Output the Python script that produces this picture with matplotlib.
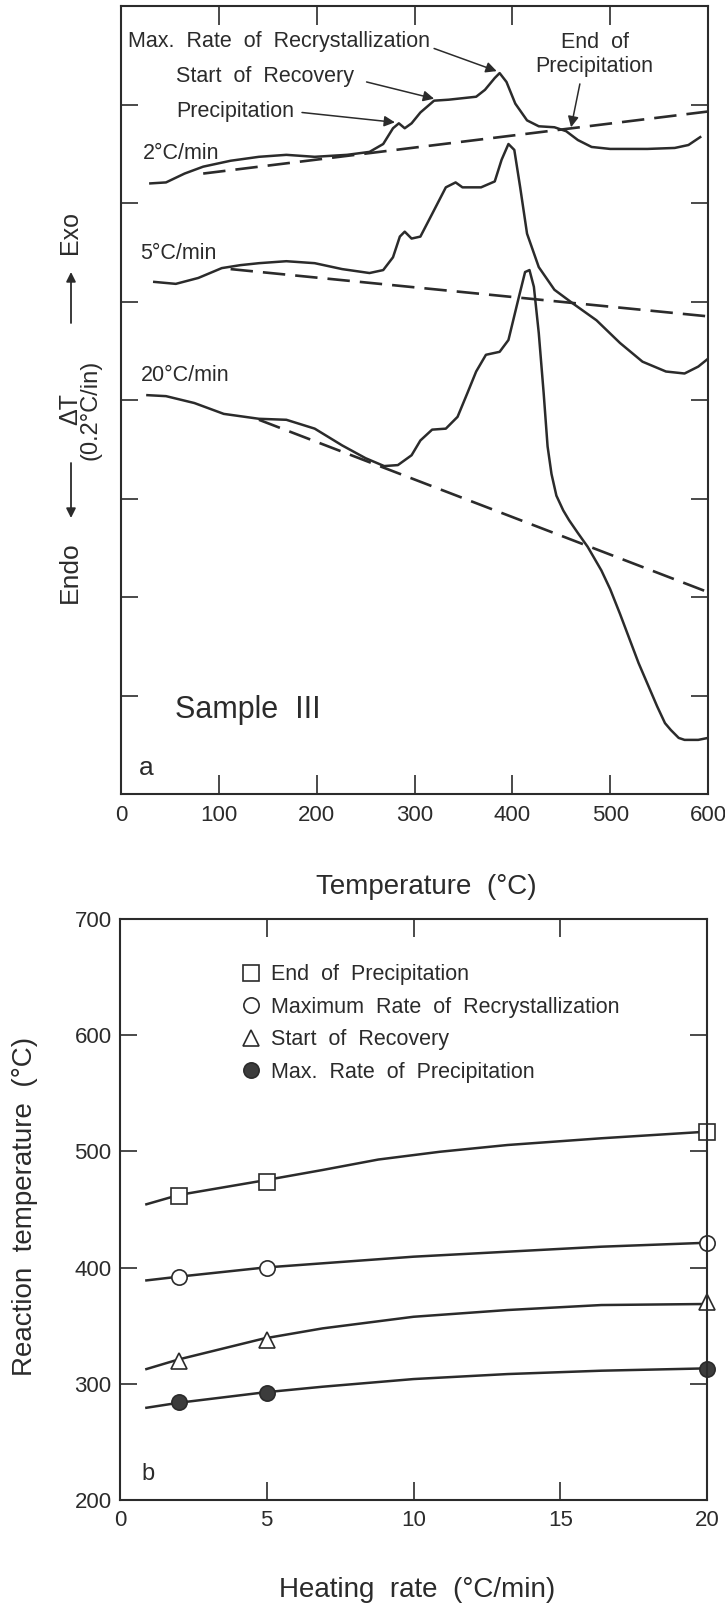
import matplotlib
matplotlib.use("Agg")
import matplotlib.pyplot as plt

plt.rcParams['font.family'] = ['Liberation Sans', 'DejaVu Sans']

INK = '#2b2b2b'

# ---- panel a: DTA traces (temperature in C, deflection in tick units) ----
t_2 = [30, 46, 65, 84, 112, 141, 169, 198, 231, 254, 268, 278, 284, 290, 297, 306, 320, 335,
       363, 372, 382, 387, 394, 403, 415, 427, 443, 455, 467, 481, 500, 538, 566, 580, 592]
dt_2 = [6.20, 6.21, 6.30, 6.37, 6.43, 6.47, 6.49, 6.47, 6.49, 6.52, 6.60, 6.76, 6.81, 6.76, 6.81,
        6.92, 7.04, 7.05, 7.08, 7.15, 7.27, 7.32, 7.23, 7.01, 6.84, 6.78, 6.77, 6.73, 6.64, 6.57,
        6.55, 6.55, 6.56, 6.59, 6.67]

t_5 = [34, 56, 79, 103, 122, 141, 169, 198, 226, 254, 268, 278, 285, 290, 297, 306, 318, 332,
       342, 349, 368, 382, 389, 396, 402, 408, 415, 427, 443, 462, 486, 510, 533, 557, 576, 590, 600]
dt_5 = [5.20, 5.18, 5.24, 5.34, 5.37, 5.39, 5.41, 5.39, 5.33, 5.29, 5.32, 5.45, 5.66, 5.71, 5.64,
        5.66, 5.89, 6.16, 6.21, 6.16, 6.16, 6.22, 6.44, 6.60, 6.54, 6.16, 5.69, 5.35, 5.12, 4.98,
        4.81, 4.58, 4.39, 4.29, 4.27, 4.34, 4.42]

t_20 = [27, 46, 75, 105, 141, 169, 198, 226, 250, 269, 283, 297, 306, 318, 332, 344, 354, 363,
        373, 387, 396, 406, 413, 417.5, 422, 427, 432, 436, 440, 445, 452, 458, 467, 477, 491,
        500, 510, 529, 548, 556, 562, 570, 576, 590, 600]
dt_20 = [4.05, 4.04, 3.97, 3.86, 3.81, 3.80, 3.71, 3.54, 3.41, 3.33, 3.34, 3.44, 3.59, 3.70, 3.71,
         3.83, 4.07, 4.29, 4.46, 4.49, 4.61, 5.02, 5.30, 5.32, 5.15, 4.68, 4.07, 3.53, 3.25, 3.03,
         2.88, 2.78, 2.65, 2.51, 2.27, 2.08, 1.83, 1.33, 0.89, 0.72, 0.65, 0.57, 0.55, 0.55, 0.57]

# dashed baselines
base_2 = ([84, 600], [6.30, 6.93])
base_5 = ([112, 600], [5.33, 4.85])
base_20 = ([141, 600], [3.80, 2.05])

rate_labels = [('2°C/min', 22, 6.50), ('5°C/min', 20, 5.49), ('20°C/min', 20, 4.25)]

# ---- panel b: reaction temperatures vs heating rate ----
rates = [2, 5, 20]
end_precip = [462, 474, 517]
max_recryst = [392, 400, 421]
start_recov = [320, 338, 370]
max_precip = [284, 292, 313]

# smooth fitted curves
fit_rate = [0.9, 2, 4.9, 6.9, 8.8, 10.9, 13.2, 16.4, 20]
fit_end = [454.5, 462.5, 475, 484, 493, 499.7, 505.5, 511.3, 517]
fit_rate2 = [0.9, 2, 4.9, 6.9, 10, 13.2, 16.4, 20]
fit_recryst = [389, 392.2, 400, 403.7, 409.4, 413.7, 418, 421.4]
fit_recov = [312.7, 321, 339, 347.7, 357.7, 363.5, 367.8, 368.7]
fit_precip = [279.4, 283.7, 292.6, 297.5, 304.1, 308.4, 311.3, 313.3]

fig = plt.figure(figsize=(7.25, 16.10), dpi=100)

# ================= panel a =================
ax = fig.add_axes([0.1669, 0.5068, 0.8097, 0.4894])
for t, d in [(t_2, dt_2), (t_5, dt_5), (t_20, dt_20)]:
    ax.plot(t, d, color=INK, lw=1.8, solid_joinstyle='round')
for bx_, by_ in [base_2, base_5, base_20]:
    ax.plot(bx_, by_, color=INK, lw=1.9, dashes=(8.5, 3.8))

FS = 15.5
for txt, x, y in rate_labels:
    ax.text(x, y, txt, fontsize=FS, ha='left', va='center', color=INK)

arrow = dict(arrowstyle='-|>', color=INK, lw=1.1, mutation_scale=16, shrinkA=0, shrinkB=0)
ax.annotate('', xy=(384, 7.34), xytext=(320, 7.57), arrowprops=arrow)
ax.annotate('', xy=(320, 7.06), xytext=(251, 7.23), arrowprops=arrow)
ax.annotate('', xy=(280, 6.82), xytext=(185, 6.92), arrowprops=arrow)
ax.annotate('', xy=(460, 6.77), xytext=(469, 7.21), arrowprops=arrow)
ax.text(7, 7.64, 'Max.  Rate  of  Recrystallization', fontsize=FS, ha='left', va='center', color=INK)
ax.text(56, 7.29, 'Start  of  Recovery', fontsize=FS, ha='left', va='center', color=INK)
ax.text(56, 6.93, 'Precipitation', fontsize=FS, ha='left', va='center', color=INK)
ax.text(484, 7.51, 'End  of\nPrecipitation', fontsize=FS, ha='center', va='center',
        color=INK, linespacing=1.15)
ax.text(55, 0.85, 'Sample  III', fontsize=22, ha='left', va='center', color=INK)
ax.text(18, 0.26, 'a', fontsize=19, ha='left', va='center', color=INK)

ax.set_xlim(0, 600)
ax.set_ylim(0, 8)
ax.set_xticks(range(0, 601, 100))
ax.set_yticks(range(1, 8))
ax.set_yticklabels([])
ax.tick_params(axis='x', direction='in', length=14, width=1.2, top=True, pad=8,
               labelsize=16, colors=INK)
ax.tick_params(axis='y', direction='in', length=12, width=1.2, right=True, colors=INK)
for s in ax.spines.values():
    s.set_linewidth(1.5)
    s.set_color(INK)

# y label pieces for panel a
fig.text(70 / 725, 1 - 233 / 1610, 'Exo', rotation=90, fontsize=18, ha='center', va='center', color=INK)
fig.text(70 / 725, 1 - 409 / 1610, 'ΔT', rotation=90, fontsize=18, ha='center', va='center', color=INK)
fig.text(91 / 725, 1 - 410 / 1610, '(0.2°C/in)', rotation=90, fontsize=17, ha='center', va='center', color=INK)
fig.text(70 / 725, 1 - 572 / 1610, 'Endo', rotation=90, fontsize=19, ha='center', va='center', color=INK)
yarrow = dict(arrowstyle='-|>', color=INK, lw=1.3, mutation_scale=14, shrinkA=0, shrinkB=0)
fig.add_artist(matplotlib.patches.FancyArrowPatch((71 / 725, 1 - 323 / 1610), (71 / 725, 1 - 272 / 1610),
               transform=fig.transFigure, **yarrow))
fig.add_artist(matplotlib.patches.FancyArrowPatch((71 / 725, 1 - 463 / 1610), (71 / 725, 1 - 518 / 1610),
               transform=fig.transFigure, **yarrow))
fig.text(426 / 725, 1 - 887 / 1610, 'Temperature  (°C)', fontsize=20, ha='center', va='center', color=INK)

# ================= panel b =================
bx = fig.add_axes([0.1655, 0.0683, 0.8097, 0.3609])
bx.plot(fit_rate, fit_end, color=INK, lw=1.8)
bx.plot(fit_rate2, fit_recryst, color=INK, lw=1.8)
bx.plot(fit_rate2, fit_recov, color=INK, lw=1.8)
bx.plot(fit_rate2, fit_precip, color=INK, lw=1.8)

mk = dict(linestyle='none', markersize=11, markeredgewidth=1.2, markeredgecolor=INK, clip_on=False)
h1, = bx.plot(rates, end_precip, marker='s', markerfacecolor='white', label='End  of  Precipitation', **mk)
h2, = bx.plot(rates, max_recryst, marker='o', markerfacecolor='white',
              label='Maximum  Rate  of  Recrystallization', **mk)
h3, = bx.plot(rates, start_recov, marker='^', markerfacecolor='white', label='Start  of  Recovery', **mk)
h4, = bx.plot(rates, max_precip, marker='o', markerfacecolor='#3c3c3c',
              label='Max.  Rate  of  Precipitation', **mk)
bx.legend(handles=[h1, h2, h3, h4], loc='upper left', bbox_to_anchor=(0.2116, 0.922), frameon=False,
          fontsize=15.5, handlelength=0.6, handletextpad=0.66, labelspacing=0.53, borderpad=0,
          borderaxespad=0, markerscale=1.0, labelcolor=INK)
bx.text(0.97, 222, 'b', fontsize=17, ha='center', va='center', color=INK)

bx.set_xlim(0, 20)
bx.set_ylim(200, 700)
bx.set_xticks([0, 5, 10, 15, 20])
bx.set_yticks([200, 300, 400, 500, 600, 700])
bx.tick_params(axis='x', direction='in', length=13, width=1.2, top=True, pad=7,
               labelsize=16, colors=INK)
bx.tick_params(axis='y', direction='in', length=12, width=1.2, right=True, pad=6,
               labelsize=16, colors=INK)
for s in bx.spines.values():
    s.set_linewidth(1.5)
    s.set_color(INK)

fig.text(25 / 725, 1 - 1206 / 1610, 'Reaction  temperature  (°C)', rotation=90, fontsize=20,
         ha='center', va='center', color=INK)
fig.text(417 / 725, 1 - 1590 / 1610, 'Heating  rate  (°C/min)', fontsize=20, ha='center',
         va='center', color=INK)

fig.savefig('out.png', dpi=100, facecolor='white')
